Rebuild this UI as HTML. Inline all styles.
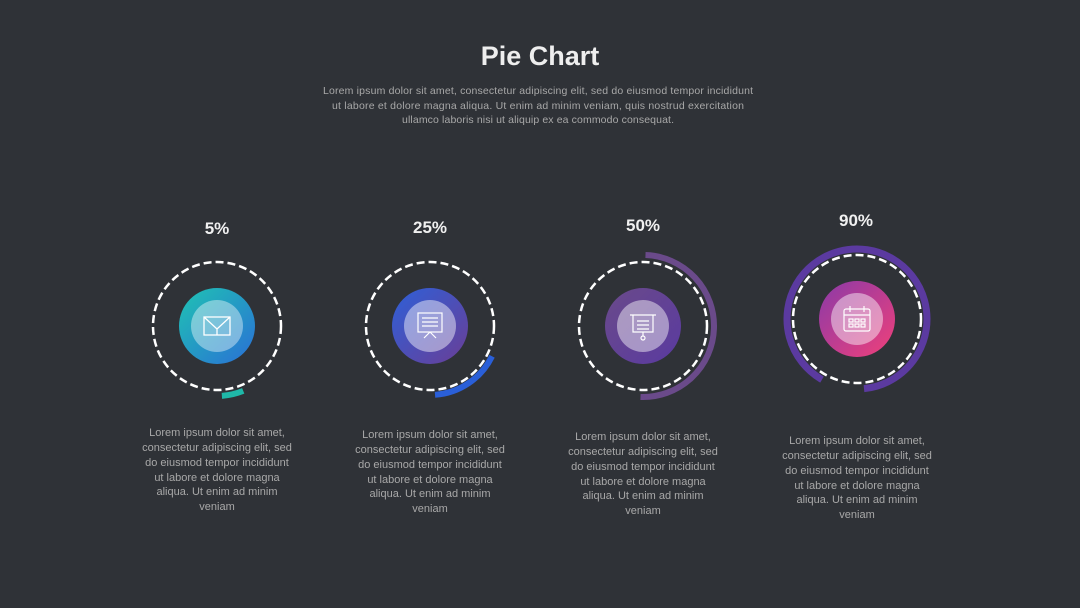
<!DOCTYPE html>
<html><head><meta charset="utf-8"><style>
html,body{margin:0;padding:0;background:#2f3237;}
svg{display:block;font-family:"Liberation Sans",sans-serif;}
</style></head><body>
<svg width="1080" height="608" viewBox="0 0 1080 608">
<defs>
<linearGradient id="g1" x1="0" y1="0" x2="1" y2="1"><stop offset="0" stop-color="#1fc3b3"/><stop offset="1" stop-color="#2a6fd6"/></linearGradient>
<linearGradient id="g2" x1="0" y1="0" x2="1" y2="1"><stop offset="0" stop-color="#2e60d8"/><stop offset="1" stop-color="#6a3e96"/></linearGradient>
<linearGradient id="g3" x1="0" y1="0" x2="1" y2="1"><stop offset="0" stop-color="#6a4a8a"/><stop offset="1" stop-color="#5a3aa0"/></linearGradient>
<linearGradient id="g4" x1="0" y1="0" x2="1" y2="1"><stop offset="0" stop-color="#8a3aa8"/><stop offset="1" stop-color="#f0407a"/></linearGradient>
</defs>
<rect width="1080" height="608" fill="#2f3237"/>
<text x="540" y="65" text-anchor="middle" font-size="27" font-weight="bold" fill="#eeeeee">Pie Chart</text>
<g font-size="10.5" fill="#a8a8a8" text-anchor="middle">
<text x="538" y="94" textLength="430">Lorem ipsum dolor sit amet, consectetur adipiscing elit, sed do eiusmod tempor incididunt</text>
<text x="538" y="109" textLength="412">ut labore et dolore magna aliqua. Ut enim ad minim veniam, quis nostrud exercitation</text>
<text x="538" y="123" textLength="272">ullamco laboris nisi ut aliquip ex ea commodo consequat.</text>
</g>
<g font-size="17" font-weight="bold" fill="#f0f0f0" text-anchor="middle">
<text x="217" y="234">5%</text><text x="430" y="233">25%</text><text x="643" y="231">50%</text><text x="856" y="226">90%</text>
</g>
<!-- chart 1 -->
<g transform="translate(217,326)">
<circle r="64" fill="none" stroke="#fff" stroke-width="2.5" stroke-dasharray="8 4"/>
<circle r="70" fill="none" stroke="#1fb8a8" stroke-width="6" stroke-dasharray="22 500" transform="rotate(68)"/>
<circle r="38" fill="url(#g1)"/><circle r="26" fill="#fff" fill-opacity="0.4"/>
<g fill="none" stroke="#fff" stroke-width="1.3"><rect x="-13" y="-9" width="26" height="18"/><path d="M-13,-9 L0,3 L13,-9 M0,3 V9"/></g>
</g>
<!-- chart 2 -->
<g transform="translate(430,326)">
<circle r="64" fill="none" stroke="#fff" stroke-width="2.5" stroke-dasharray="8 4"/>
<circle r="69" fill="none" stroke="#2a5fd8" stroke-width="6" stroke-dasharray="72 500" transform="rotate(26)"/>
<circle r="38" fill="url(#g2)"/><circle r="26" fill="#fff" fill-opacity="0.45"/>
<g fill="none" stroke="#fff" stroke-width="1.2"><rect x="-12" y="-13" width="24" height="19"/><path d="M-8,-8 H8 M-8,-4 H8 M-8,0 H8 M0,6 L-6,12 M0,6 L6,12"/></g>
</g>
<!-- chart 3 -->
<g transform="translate(643,326)">
<circle r="64" fill="none" stroke="#fff" stroke-width="2.5" stroke-dasharray="8 4"/>
<circle r="71" fill="none" stroke="#6a4a8a" stroke-width="6" stroke-dasharray="223 500" transform="rotate(-88)"/>
<circle r="38" fill="url(#g3)"/><circle r="26" fill="#fff" fill-opacity="0.45"/>
<g fill="none" stroke="#fff" stroke-width="1.2"><path d="M-13,-11 H13 M-10,-11 V6 H10 V-11 M-6,-5 H6 M-6,-1 H6 M-6,3 H6 M0,6 V10"/><circle cx="0" cy="12" r="2"/></g>
</g>
<!-- chart 4 -->
<g transform="translate(857,319)">
<circle r="64" fill="none" stroke="#fff" stroke-width="2.5" stroke-dasharray="8 4"/>
<circle r="70" fill="none" stroke="#5b3aa0" stroke-width="7" stroke-dasharray="396 500" transform="rotate(120)"/>
<circle r="38" fill="url(#g4)"/><circle r="26" fill="#fff" fill-opacity="0.45"/>
<g fill="none" stroke="#fff" stroke-width="1.2"><rect x="-13" y="-10" width="26" height="22" rx="2"/><path d="M-13,-4 H13 M-7,-13 V-7 M7,-13 V-7"/>
<rect x="-8" y="0" width="4" height="3"/><rect x="-2" y="0" width="4" height="3"/><rect x="4" y="0" width="4" height="3"/>
<rect x="-8" y="5" width="4" height="3"/><rect x="-2" y="5" width="4" height="3"/><rect x="4" y="5" width="4" height="3"/></g>
</g>
<g font-size="11" fill="#a8a8a8" text-anchor="middle">
<text x="217" y="436">Lorem ipsum dolor sit amet,</text><text x="217" y="451">consectetur adipiscing elit, sed</text><text x="217" y="466">do eiusmod tempor incididunt</text><text x="217" y="481">ut labore et dolore magna</text><text x="217" y="495">aliqua. Ut enim ad minim</text><text x="217" y="510">veniam</text>
<text x="430" y="438">Lorem ipsum dolor sit amet,</text><text x="430" y="453">consectetur adipiscing elit, sed</text><text x="430" y="468">do eiusmod tempor incididunt</text><text x="430" y="483">ut labore et dolore magna</text><text x="430" y="497">aliqua. Ut enim ad minim</text><text x="430" y="512">veniam</text>
<text x="643" y="440">Lorem ipsum dolor sit amet,</text><text x="643" y="455">consectetur adipiscing elit, sed</text><text x="643" y="470">do eiusmod tempor incididunt</text><text x="643" y="485">ut labore et dolore magna</text><text x="643" y="499">aliqua. Ut enim ad minim</text><text x="643" y="514">veniam</text>
<text x="857" y="444">Lorem ipsum dolor sit amet,</text><text x="857" y="459">consectetur adipiscing elit, sed</text><text x="857" y="474">do eiusmod tempor incididunt</text><text x="857" y="489">ut labore et dolore magna</text><text x="857" y="503">aliqua. Ut enim ad minim</text><text x="857" y="518">veniam</text>
</g>
</svg>
</body></html>
